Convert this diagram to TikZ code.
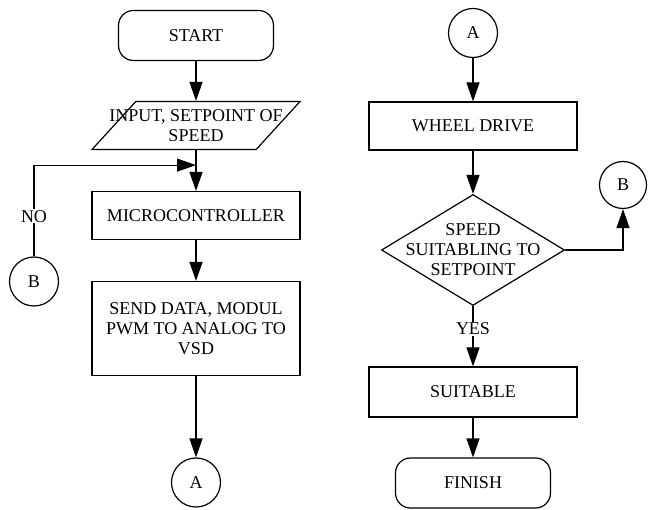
\documentclass[tikz,border=0pt]{standalone}
\usepackage{fontspec}
\setmainfont{Liberation Serif}
\usetikzlibrary{shapes.geometric,arrows.meta}

\begin{document}
\begin{tikzpicture}[x=1pt,y=1pt,node distance=90pt,font=\fontsize{18}{20}\selectfont]

        \tikzstyle{startstop} = [rectangle, rounded corners=15pt, minimum width=155pt, minimum height=50pt, text centered, draw=black, line width=1.2pt]
        \tikzstyle{io} = [trapezium, trapezium left angle=70, trapezium right angle=110, trapezium stretches=true, minimum width=208pt, minimum height=48pt, draw=black, line width=1.2pt]
        \tikzstyle{process} = [rectangle, minimum width=208pt, minimum height=48pt, text centered, align=center, draw=black, line width=1.2pt]
        \tikzstyle{decision} = [diamond, minimum width=183pt, minimum height=111pt, inner sep=0pt, draw=black, line width=1.2pt]
        \tikzstyle{connector} = [circle, minimum size=49pt, inner sep=0pt, draw=black, line width=1.2pt]
        \tikzstyle{inside} = [align=center, inner sep=0pt]
        \tikzstyle{arrow} = [line width=1.2pt,-{Triangle[length=19pt,width=13pt]}]

        \useasboundingbox (0,0) rectangle (648,-510);

        % left column
        \node (start) [startstop] at (196,-35.5) {START};
        \node (in1) [io, below of=start, label={[inside]center:INPUT, SETPOINT OF\\SPEED}] {};
        \node (pro1) [process, below of=in1] {MICROCONTROLLER};
        \node (pro2) [process, below of=pro1, yshift=-23pt, minimum height=94pt] {SEND DATA, MODUL\\PWM TO ANALOG TO\\VSD};
        \node (conA) [connector, below of=pro2, yshift=-64pt] {A};
        \node (conB) [connector, left of=pro1, xshift=-72pt, yshift=-66pt] {B};
        \coordinate (join) at ([yshift=-15pt]in1.south);

        % right column
        \node (conA2) [connector] at (473,-33) {A};
        \node (pro3) [process, below of=conA2, yshift=-3pt] {WHEEL DRIVE};
        \node (dec1) [decision, below of=pro3, yshift=-34pt, label={[inside]center:SPEED\\SUITABLING TO\\SETPOINT}] {};
        \node (pro4) [process, below of=dec1, yshift=-52pt, minimum height=50pt] {SUITABLE};
        \node (stop) [startstop, below of=pro4, yshift=-1pt] {FINISH};
        \node (conB2) [connector, right of=dec1, xshift=60pt, yshift=65pt, minimum size=47pt] {B};

        \draw [arrow] (start) -- (in1);
        \draw [arrow] (in1) -- (pro1);
        \draw [arrow] (conB) |- node[pos=0.22, fill=white, inner sep=1pt] {NO} (join);
        \draw [arrow] (pro1) -- (pro2);
        \draw [arrow] (pro2) -- (conA);
        \draw [arrow] (conA2) -- (pro3);
        \draw [arrow] (pro3) -- (dec1);
        \draw [arrow] (dec1.east) -| (conB2);
        \draw [arrow] (dec1) -- node[pos=0.38, fill=white, inner sep=1pt] {YES} (pro4);
        \draw [arrow] (pro4) -- (stop);
    \end{tikzpicture}
\end{document}
